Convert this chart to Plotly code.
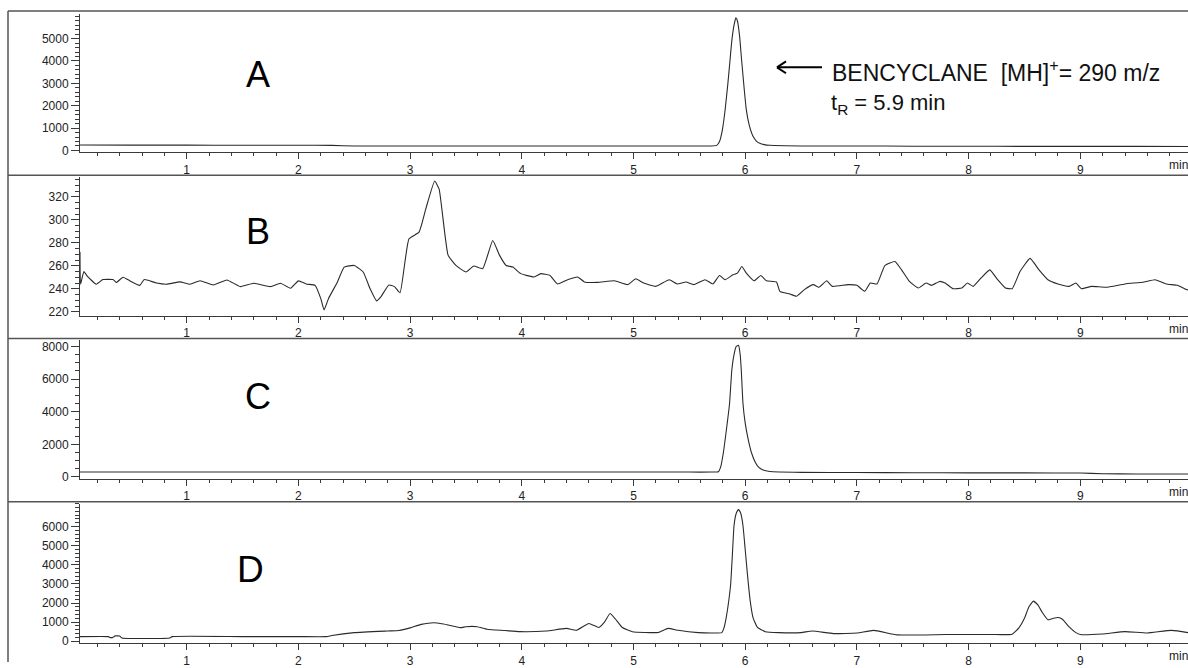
import plotly.graph_objects as go

# ---------------- data ----------------
# Panel A : m/z 290 (BENCYCLANE standard)
tA = [0.045, 0.5, 1.0, 1.5, 2.0, 2.3, 2.5, 3.0, 3.5, 4.0, 4.5, 5.0, 5.5, 5.70, 5.745,
      5.77, 5.795, 5.82, 5.845, 5.864, 5.88, 5.90, 5.916, 5.93, 5.95, 5.968, 5.99, 6.01,
      6.035, 6.07, 6.10, 6.13, 6.17, 6.22, 6.5, 7.0, 7.5, 8.0, 8.5, 9.0, 9.5, 10.036]
yA = [240, 235, 235, 230, 230, 225, 200, 200, 200, 195, 200, 200, 200, 200, 225,
      400, 900, 1810, 3000, 4030, 4900, 5600, 5930, 5800, 5100, 4030, 2800, 1810,
      1150, 630, 420, 320, 260, 230, 200, 200, 190, 190, 180, 180, 180, 175]

# Panel B : blank
tB = [0.045, 0.05, 0.08, 0.11, 0.19, 0.25, 0.34, 0.37, 0.43, 0.49, 0.58, 0.62, 0.73,
      0.82, 0.94, 1.03, 1.12, 1.24, 1.36, 1.48, 1.60, 1.75, 1.84, 1.93, 2.00, 2.07,
      2.15, 2.20, 2.23, 2.27, 2.35, 2.41, 2.50, 2.58, 2.64, 2.70, 2.74, 2.81, 2.86,
      2.91, 2.99, 3.08, 3.14, 3.22, 3.26, 3.34, 3.41, 3.50, 3.57, 3.65, 3.74, 3.80,
      3.86, 3.92, 3.99, 4.11, 4.17, 4.25, 4.32, 4.41, 4.50, 4.56, 4.68, 4.83, 4.95,
      5.02, 5.09, 5.20, 5.32, 5.39, 5.47, 5.54, 5.64, 5.71, 5.77, 5.82, 5.89, 5.93,
      5.97, 6.01, 6.08, 6.14, 6.19, 6.28, 6.31, 6.40, 6.46, 6.53, 6.61, 6.66, 6.73,
      6.78, 6.92, 7.00, 7.07, 7.12, 7.18, 7.25, 7.34, 7.40, 7.47, 7.55, 7.62, 7.67,
      7.74, 7.79, 7.86, 7.94, 7.99, 8.04, 8.11, 8.19, 8.26, 8.33, 8.39, 8.46, 8.55,
      8.63, 8.71, 8.80, 8.90, 8.96, 9.01, 9.10, 9.23, 9.40, 9.57, 9.67, 9.77, 9.87,
      9.95, 10.036]
yB = [272, 244, 255, 251, 244, 248, 248, 245.5, 250, 247, 243, 248, 245,
      244, 246, 244, 247, 243.3, 247.7, 241.9, 244.8, 241.9, 244.8, 240.5, 246.9, 244.2,
      243, 231.6, 221.6, 231.6, 246, 258.9, 260.3, 254.6, 240.5, 229.5, 233.2, 243.3, 241.9,
      236.6, 283.5, 289.3, 309.4, 333.9, 326.7, 269.3, 260.3, 254.6, 259.8, 257.5, 282, 269.3,
      260.3, 258.9, 253.2, 250.3, 253.2, 251.7, 244.2, 247.9, 250.3, 246, 245.6, 247, 243.6,
      248.7, 245, 242.1, 247.9, 244.2, 245.9, 243.6, 247.9, 244.2, 251.6, 247.9, 252.2, 253.6,
      259.4, 253.6, 247, 251.6, 247, 245.9, 237.8, 235.5, 233.5, 239.3, 243.6, 241.3, 247,
      242.1, 243.6, 243, 237.8, 245, 244.2, 260.2, 263.7, 256.5, 246.4, 240.7, 245, 243,
      246.4, 245, 240.1, 240.7, 245, 242.1, 249.3, 256.5, 247.9, 240.7, 240.1, 255, 266.5,
      256.5, 247.9, 244.2, 242.1, 245, 240.1, 242.1, 241.3, 244.2, 245.9, 247.9, 244.2, 243,
      239.3, 238]

# Panel C : spiked sample
tC = [0.045, 0.5, 1.0, 1.5, 2.0, 2.5, 3.0, 3.5, 4.0, 4.5, 5.0, 5.5, 5.70, 5.76, 5.78,
      5.804, 5.83, 5.86, 5.88, 5.90, 5.92, 5.94, 5.955, 5.965, 5.98, 6.00, 6.03, 6.057,
      6.09, 6.12, 6.16, 6.22, 6.5, 7.0, 7.5, 8.0, 8.5, 9.0, 9.2, 9.5, 10.036]
yC = [300, 300, 300, 300, 300, 300, 300, 300, 300, 300, 300, 300, 300, 320, 600,
      1470, 2800, 4500, 6540, 7500, 8000, 8060, 7500, 6540, 4500, 3300, 2200, 1470,
      900, 600, 420, 330, 280, 270, 260, 250, 250, 240, 200, 180, 180]

# Panel D : real sample
tD = [0.045, 0.30, 0.31, 0.34, 0.36, 0.40, 0.42, 0.85, 0.87, 1.5, 2.0, 2.25, 2.3, 2.5,
      2.8, 2.9, 3.0, 3.1, 3.21, 3.3, 3.45, 3.5, 3.6, 3.69, 3.85, 3.98, 4.22, 4.4, 4.49,
      4.6, 4.69, 4.74, 4.79, 4.84, 4.9, 4.99, 5.22, 5.31, 5.4, 5.58, 5.72, 5.79, 5.81,
      5.83, 5.85, 5.87, 5.885, 5.90, 5.92, 5.94, 5.96, 5.98, 6.00, 6.02, 6.045, 6.07,
      6.11, 6.18, 6.3, 6.5, 6.6, 6.79, 7.0, 7.15, 7.36, 7.8, 8.2, 8.39, 8.45, 8.50,
      8.54, 8.58, 8.62, 8.66, 8.71, 8.76, 8.80, 8.84, 8.90, 8.96, 9.0, 9.2, 9.4, 9.6,
      9.82, 10.036]
yD = [240, 240, 200, 200, 280, 270, 170, 170, 240, 240, 240, 240, 300, 450,
      535, 560, 700, 880, 970, 900, 710, 760, 760, 625, 560, 500, 535, 670, 570,
      930, 720, 1000, 1450, 1150, 720, 500, 460, 670, 570, 450, 430, 450, 700,
      1240, 2000, 3000, 4500, 6060, 6700, 6900, 6700, 6060, 4800, 3500, 2100, 1240,
      720, 500, 450, 450, 535, 400, 430, 570, 330, 350, 350, 370, 700, 1200,
      1800, 2100, 1900, 1500, 1120, 1200, 1240, 1150, 750, 450, 350, 380, 500, 430,
      570, 380]

x_ticks = [1, 2, 3, 4, 5, 6, 7, 8, 9]
panel_labels = ["A", "B", "C", "D"]
y_ticks = {
    "A": [0, 1000, 2000, 3000, 4000, 5000],
    "B": [220, 240, 260, 280, 300, 320],
    "C": [0, 2000, 4000, 6000, 8000],
    "D": [0, 1000, 2000, 3000, 4000, 5000, 6000],
}
y_minor = {"A": 200, "B": 5, "C": 500, "D": 200}
y_ranges = {"A": [-88, 6106], "B": [216.6, 337.2], "C": [-121, 8364], "D": [-104, 7202]}
x_range = [0.045, 9.964]

# ---------------- layout helpers ----------------
W, H = 1188, 668
def px(x):
    return x / W
def py(y):
    return 1 - y / H

# plot area (top, bottom) in page pixels for each panel
panel_px = {"A": (13, 153), "B": (178, 318), "C": (343, 483), "D": (508, 649)}
x_dom = [px(80), 1.0]

AX = "#3a3a3a"
FONT = "Liberation Sans, Arial, sans-serif"
TF = 12

fig = go.Figure()
series = {"A": (tA, yA), "B": (tB, yB), "C": (tC, yC), "D": (tD, yD)}

layout = dict(
    width=W, height=H, margin=dict(l=0, r=0, t=0, b=0),
    paper_bgcolor="white", plot_bgcolor="white", showlegend=False,
    font=dict(family=FONT, size=TF, color="#222"),
)

for i, key in enumerate(panel_labels, start=1):
    sfx = "" if i == 1 else str(i)
    t, v = series[key]
    fig.add_trace(go.Scatter(x=t, y=v, mode="lines",
                             line=dict(color="#2a2a2a", width=1.1, shape="spline", smoothing=0.4),
                             xaxis="x" + sfx, yaxis="y" + sfx, hoverinfo="skip"))
    top, bot = panel_px[key]
    layout["xaxis" + sfx] = dict(
        domain=x_dom, anchor="y" + sfx, range=x_range,
        tickmode="array", tickvals=x_ticks, ticks="outside", ticklen=6,
        tickwidth=1, tickcolor=AX, showline=True, linecolor=AX, linewidth=1,
        showgrid=False, zeroline=False,
        tickfont=dict(size=TF, color="#222", family=FONT),
        minor=dict(tickmode="linear", tick0=0, dtick=0.2, ticks="outside",
                   ticklen=3, tickwidth=1, tickcolor=AX, showgrid=False),
    )
    layout["yaxis" + sfx] = dict(
        domain=[py(bot), py(top)], anchor="x" + sfx, range=y_ranges[key],
        tickmode="array", tickvals=y_ticks[key], ticks="outside", ticklen=8,
        tickwidth=1, tickcolor=AX, showline=True, linecolor=AX, linewidth=1,
        showgrid=False, zeroline=False,
        tickfont=dict(size=TF, color="#222", family=FONT),
        minor=dict(tickmode="linear", tick0=0, dtick=y_minor[key], ticks="outside",
                   ticklen=4, tickwidth=1, tickcolor=AX, showgrid=False),
    )

shapes = []
FR = "#555555"
for yy in [10, 176, 341, 506]:
    shapes.append(dict(type="line", xref="paper", yref="paper", x0=px(8), x1=1.0,
                       y0=py(yy), y1=py(yy), line=dict(color=FR, width=1.5)))
shapes.append(dict(type="line", xref="paper", yref="paper", x0=px(8), x1=px(8),
                   y0=py(10), y1=0, line=dict(color=FR, width=1.5)))
# arrow  <---
shapes.append(dict(type="line", xref="paper", yref="paper", x0=px(777), x1=px(822),
                   y0=py(67), y1=py(67), line=dict(color="black", width=2)))
shapes.append(dict(type="line", xref="paper", yref="paper", x0=px(777), x1=px(786),
                   y0=py(67), y1=py(61), line=dict(color="black", width=2)))
shapes.append(dict(type="line", xref="paper", yref="paper", x0=px(777), x1=px(786),
                   y0=py(67), y1=py(73), line=dict(color="black", width=2)))
layout["shapes"] = shapes

ann = []
letter_pos = {"A": (258, 72, 36), "B": (258, 231, 36), "C": (258, 398, 36), "D": (250, 573, 37)}
for key in panel_labels:
    x0, y0, fs = letter_pos[key]
    ann.append(dict(text=key, xref="paper", yref="paper", x=px(x0), y=py(y0 + 2),
                    xanchor="center", yanchor="middle", showarrow=False,
                    font=dict(size=fs, color="black", family=FONT)))
for key in panel_labels:
    top, bot = panel_px[key]
    ann.append(dict(text="min", xref="paper", yref="paper", x=px(1167), y=py(bot + 13),
                    xanchor="left", yanchor="middle", showarrow=False,
                    font=dict(size=TF, color="#222", family=FONT)))
ann.append(dict(text="BENCYCLANE  [MH]<sup>+</sup>= 290 m/z", xref="paper", yref="paper",
                x=px(830), y=py(71), xanchor="left", yanchor="middle", showarrow=False,
                font=dict(size=23, color="#111", family=FONT)))
ann.append(dict(text="t<sub>R</sub> = 5.9 min", xref="paper", yref="paper",
                x=px(829), y=py(104), xanchor="left", yanchor="middle", showarrow=False,
                font=dict(size=22, color="#111", family=FONT)))
layout["annotations"] = ann

fig.update_layout(**layout)
fig.write_html(
    "out.html",
    config={"displayModeBar": False},
    post_script="document.body.style.margin='0';document.body.style.overflow='hidden';",
)
